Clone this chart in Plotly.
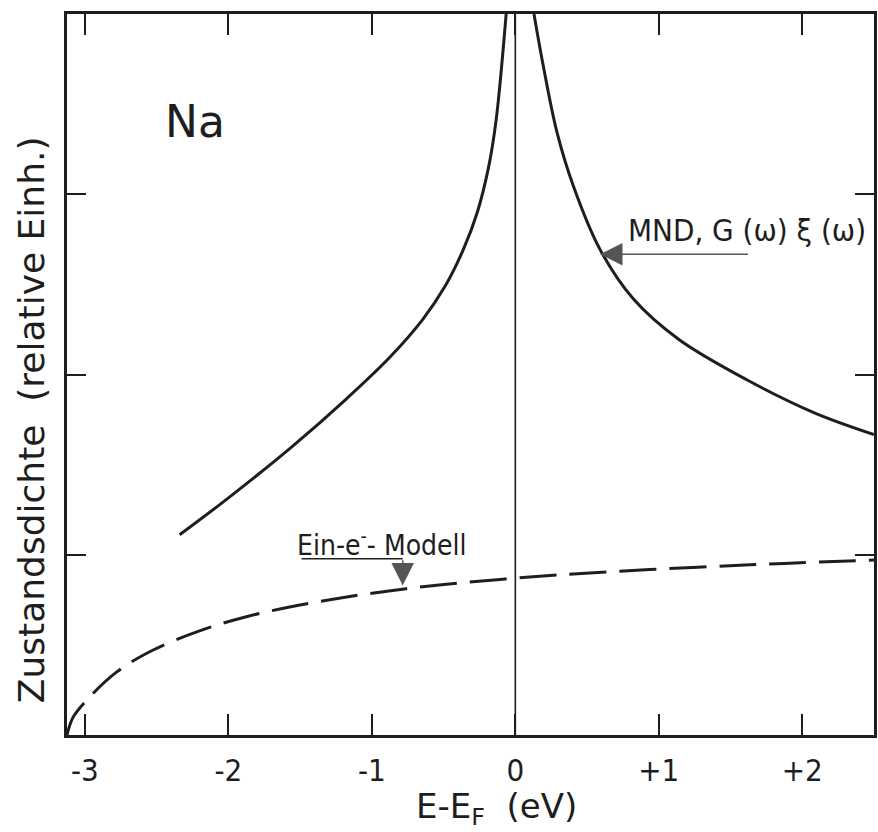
import plotly.graph_objects as go

# ---- data ----
mnd_left_x = [-2.340, -2.015, -1.556, -1.183, -0.870, -0.645, -0.490, -0.362, -0.265, -0.185, -0.133, -0.064]
mnd_left_y = [1.111, 1.306, 1.600, 1.861, 2.100, 2.306, 2.489, 2.694, 2.900, 3.156, 3.417, 4.0]
mnd_right_x = [0.130, 0.195, 0.290, 0.405, 0.590, 0.825, 1.140, 1.610, 2.080, 2.5]
mnd_right_y = [4.0, 3.711, 3.344, 3.044, 2.694, 2.417, 2.194, 1.972, 1.789, 1.667]
ein_x = [-3.125, -3.085, -3.0, -2.778, -2.528, -2.201, -1.875, -1.556, -1.229, -0.882, -0.514, 0.0, 0.576, 1.271, 1.875, 2.5]
ein_y = [0.0, 0.095, 0.183, 0.350, 0.470, 0.578, 0.656, 0.713, 0.759, 0.799, 0.834, 0.870, 0.902, 0.931, 0.952, 0.971]

x_ticks = [-3, -2, -1, 0, 1, 2]
x_ticktext = ["-3", "-2", "-1", "0", "+1", "+2"]
y_ticks = [1, 2, 3]

FONT_C = "DejaVu Sans Condensed, DejaVu Sans, sans-serif"
FONT = "DejaVu Sans, sans-serif"
INK = "#1e1e1e"

fig = go.Figure()
fig.add_trace(go.Scatter(x=mnd_left_x, y=mnd_left_y, mode="lines",
                         line=dict(color=INK, width=3, shape="spline", smoothing=1.0),
                         showlegend=False, hoverinfo="skip"))
fig.add_trace(go.Scatter(x=mnd_right_x, y=mnd_right_y, mode="lines",
                         line=dict(color=INK, width=3, shape="spline", smoothing=1.0),
                         showlegend=False, hoverinfo="skip"))
fig.add_trace(go.Scatter(x=ein_x, y=ein_y, mode="lines",
                         line=dict(color=INK, width=3, dash="37px,13px", shape="spline", smoothing=1.0),
                         showlegend=False, hoverinfo="skip"))

# vertical line at E_F
fig.add_shape(type="line", x0=0, x1=0, y0=0, y1=4, xref="x", yref="y",
              line=dict(color=INK, width=1.6))

# Ein-e- arrow: horizontal underline segment + downward arrow
fig.add_shape(type="line", x0=-1.49, x1=-0.785, y0=0.978, y1=0.978, xref="x", yref="y",
              line=dict(color=INK, width=1.5))
fig.add_annotation(x=-0.785, y=0.83, xref="x", yref="y", text="", showarrow=True,
                   ax=-0.785, ay=0.978, axref="x", ayref="y",
                   arrowhead=2, arrowsize=3, arrowwidth=1.5, arrowcolor="#555")
fig.add_annotation(x=-0.93, y=1.065, xref="x", yref="y", text="Ein-e<sup>-</sup>- Modell",
                   showarrow=False, font=dict(family=FONT_C, size=28, color=INK))

# MND arrow
fig.add_annotation(x=0.59, y=2.667, xref="x", yref="y", text="", showarrow=True,
                   ax=1.632, ay=2.667, axref="x", ayref="y",
                   arrowhead=2, arrowsize=3, arrowwidth=1.5, arrowcolor="#555")
fig.add_annotation(x=1.612, y=2.80, xref="x", yref="y", text="MND, G (ω) ξ (ω)",
                   showarrow=False, font=dict(family=FONT_C, size=31, color=INK))

# Na label
fig.add_annotation(x=-2.236, y=3.406, xref="x", yref="y", text="Na",
                   showarrow=False, font=dict(family=FONT, size=44, color=INK))

# axis titles as annotations (paper coords relative to plot area)
fig.add_annotation(xref="paper", yref="paper", x=(498 - 67) / 810, y=(735 - 808) / 721,
                   xanchor="center", yanchor="middle",
                   text="E-E<sub>F</sub>  (eV)", showarrow=False,
                   font=dict(family=FONT, size=34, color=INK))
fig.add_annotation(xref="paper", yref="paper", x=(31 - 67) / 810, y=(735 - 420) / 721,
                   xanchor="center", yanchor="middle",
                   text="Zustandsdichte  (relative Einh.)", showarrow=False, textangle=-90,
                   font=dict(family=FONT, size=36, color=INK))

fig.update_xaxes(range=[-3.125, 2.5], tickvals=x_ticks, ticktext=x_ticktext,
                 ticks="inside", ticklen=21, tickwidth=2, tickcolor=INK,
                 showline=True, linewidth=2.5, linecolor=INK, mirror="ticks",
                 showgrid=False, zeroline=False, ticklabelstandoff=6,
                 tickfont=dict(family=FONT_C, size=31, color=INK))
fig.update_yaxes(range=[0, 4], tickvals=y_ticks, showticklabels=False,
                 ticks="inside", ticklen=19, tickwidth=2, tickcolor=INK,
                 showline=True, linewidth=2.5, linecolor=INK, mirror="ticks",
                 showgrid=False, zeroline=False)

fig.update_layout(width=878, height=832, margin=dict(l=67, r=1, t=14, b=97),
                  plot_bgcolor="white", paper_bgcolor="white")

fig.write_html("out.html")
